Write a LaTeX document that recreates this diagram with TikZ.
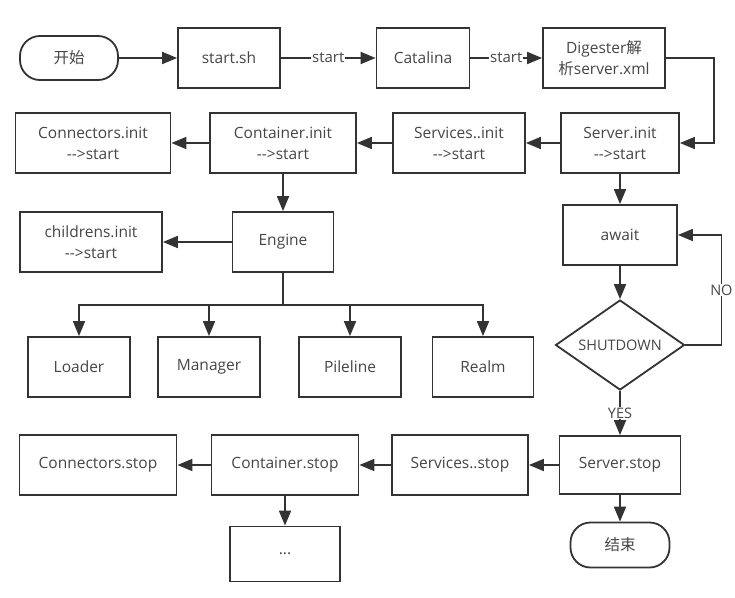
\documentclass[tikz,border=0pt]{standalone}
\usepackage{fontspec}
\setmainfont{Open Sans}
\newfontfamily\cjk{Noto Sans CJK SC}
\usetikzlibrary{arrows.meta,positioning,shapes.geometric}
\definecolor{linegray}{RGB}{51,51,51}
\definecolor{textgray}{RGB}{70,70,70}
\newcommand{\tostart}{-{}-{}>start}
\tikzset{
  box/.style={draw=linegray, line width=1.8pt, fill=white,
              minimum height=60pt, inner sep=2pt, align=center,
              text=textgray, font=\fontsize{15.5}{21}\selectfont},
  term/.style={box, minimum height=44pt, rounded corners=20pt},
  decision/.style={diamond, draw=linegray, line width=1.8pt, fill=white,
                   minimum width=129pt, minimum height=90pt, aspect=1.4,
                   inner sep=0pt, text=textgray,
                   font=\fontsize{14.5}{17}\selectfont},
  wire/.style={draw=linegray, line width=1.8pt},
  flow/.style={wire, -{Triangle[length=15pt,width=12pt]}},
  lab/.style={fill=white, inner sep=1pt, text=textgray,
              font=\fontsize{15}{17}\selectfont},
}

\begin{document}
\begin{tikzpicture}[x=1pt,y=-1pt]
  \path[use as bounding box] (0,0) rectangle (735,597);

  % Start-up chain.
  \node[term, minimum width=98pt] (begin) at (69,58) {{\cjk 开始}};
  \node[box, minimum width=102pt] (startsh) at (229,58) {start.sh};
  \node[box, minimum width=93pt] (catalina) at (423,58) {Catalina};
  \node[box, minimum width=122pt] (digester) at (604,58)
    {Digester{\cjk 解}\\{\cjk 析}server.xml};

  % Init row.
  \node[box, minimum width=118pt] (serverinit) at (620,143) {Server.init\\\tostart};
  \node[box, minimum width=132pt] (servicesinit) at (459,143) {Services..init\\\tostart};
  \node[box, minimum width=146pt] (containerinit) at (283,143) {Container.init\\\tostart};
  \node[box, minimum width=155pt] (connectorsinit) at (93,143) {Connectors.init\\\tostart};

  % Engine and its children.
  \node[box, minimum width=101pt] (engine) at (283,242) {Engine};
  \node[box, minimum width=142pt] (childrens) at (91,242) {childrens.init\\\tostart};
  \node[box, minimum width=102pt] (loader) at (79,367) {Loader};
  \node[box, minimum width=102pt] (manager) at (209,367) {Manager};
  \node[box, minimum width=102pt] (pileline) at (350,367) {Pileline};
  \node[box, minimum width=101pt] (realm) at (483,367) {Realm};

  % Wait loop.
  \node[box, minimum width=114pt] (await) at (620,235) {await};
  \node[decision] (shutdown) at (620,345) {SHUTDOWN};

  % Stop row.
  \node[box, minimum width=121pt, minimum height=58pt] (serverstop) at (620,465) {Server.stop};
  \node[box, minimum width=136pt] (servicesstop) at (460,465) {Services..stop};
  \node[box, minimum width=147pt] (containerstop) at (285,465) {Container.stop};
  \node[box, minimum width=157pt] (connectorsstop) at (98,465) {Connectors.stop};
  \node[box, minimum width=110pt, minimum height=55pt] (dots) at (285,554) {...};
  \node[term, minimum width=99pt, minimum height=45pt] (finish) at (620,545) {{\cjk 结束}};

  % Connectors.
  \draw[flow] (begin) -- (startsh);
  \draw[flow] (startsh) -- (catalina) node[midway, lab] {start};
  \draw[flow] (catalina) -- (digester) node[midway, lab] {start};
  \draw[flow] (digester.east) -- ++(48,0) |- (serverinit.east);
  \draw[flow] (serverinit) -- (servicesinit);
  \draw[flow] (servicesinit) -- (containerinit);
  \draw[flow] (containerinit) -- (connectorsinit);
  \draw[flow] (containerinit) -- (engine);
  \draw[flow] (engine) -- (childrens);
  \draw[wire] (engine.south) -- ++(0,32) coordinate (bus);
  \foreach \kid in {loader,manager,pileline,realm}
    \draw[flow] (bus) -| (\kid.north);

  \draw[flow] (serverinit) -- (await);
  \draw[flow] (await) -- (shutdown);
  \draw[flow] (shutdown.east) -- ++(36,0) |- (await.east)
    node[pos=0.25, lab, font=\fontsize{14.5}{17}\selectfont] {NO};
  \draw[flow] (shutdown.south) -- (serverstop.north)
    node[midway, lab, font=\fontsize{14.5}{17}\selectfont] {YES};

  \draw[flow] (serverstop) -- (servicesstop);
  \draw[flow] (servicesstop) -- (containerstop);
  \draw[flow] (containerstop) -- (connectorsstop);
  \draw[flow] (containerstop) -- (dots);
  \draw[flow] (serverstop) -- (finish);
\end{tikzpicture}
\end{document}
